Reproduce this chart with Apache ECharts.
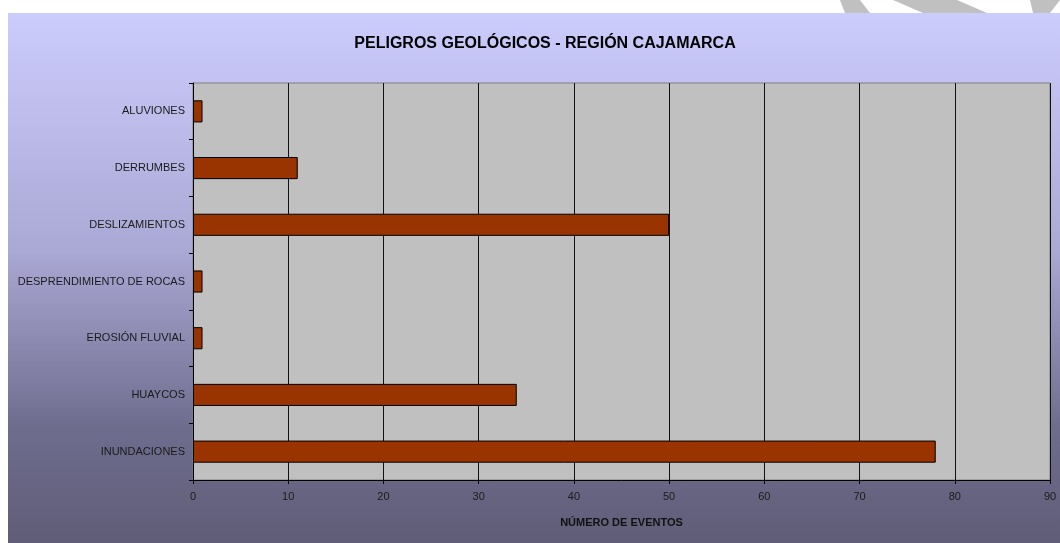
<!DOCTYPE html>
<html>
<head>
<meta charset="utf-8">
<script src="https://cdn.jsdelivr.net/npm/echarts@6/dist/echarts.min.js"></script>
<style>
  html, body { margin: 0; padding: 0; background: #ffffff; }
  #chart { width: 1060px; height: 543px; }
</style>
</head>
<body>
<div id="chart"></div>
<script>
// datos del grafico
var categorias = ['ALUVIONES', 'DERRUMBES', 'DESLIZAMIENTOS', 'DESPRENDIMIENTO DE ROCAS', 'EROSIÓN FLUVIAL', 'HUAYCOS', 'INUNDACIONES'];
var eventos = [1, 11, 50, 1, 1, 34, 78];
var ejeX = { min: 0, max: 90, intervalo: 10 };

var myChart = echarts.init(document.getElementById('chart'));

var option = {
    animation: false,
    textStyle: { fontFamily: 'Arial, "Liberation Sans", sans-serif' },
    graphic: [
        {
            // fondo degradado
            type: 'rect',
            z: -10,
            silent: true,
            shape: { x: 8, y: 13, width: 1052, height: 530 },
            style: {
                fill: {
                    type: 'linear', x: 0, y: 0, x2: 0, y2: 1,
                    colorStops: [
                        { offset: 0, color: '#ccccfd' },
                        { offset: 0.45, color: '#aaa8d4' },
                        { offset: 0.78, color: '#6f6d8e' },
                        { offset: 1, color: '#5f5d77' }
                    ]
                }
            }
        },
        // marca de agua arriba a la derecha
        { type: 'polygon', z: -10, silent: true, shape: { points: [[840, 0], [860, 0], [870, 13], [845, 13]] }, style: { fill: '#c0c0c0' } },
        { type: 'polygon', z: -10, silent: true, shape: { points: [[893, 0], [957, 0], [987, 13], [923, 13]] }, style: { fill: '#c0c0c0' } },
        { type: 'polygon', z: -10, silent: true, shape: { points: [[1030, 0], [1060, 0], [1050, 13], [1033, 13]] }, style: { fill: '#c0c0c0' } }
    ],
    title: {
        text: 'PELIGROS GEOLÓGICOS - REGIÓN CAJAMARCA',
        left: 540,
        textAlign: 'center',
        top: 31,
        textStyle: { fontSize: 16, fontWeight: 'bold', color: '#000' }
    },
    grid: {
        left: 193,
        top: 83,
        right: 10,
        bottom: 63,
        show: true,
        backgroundColor: '#c0c0c0',
        borderColor: '#808080',
        borderWidth: 1,
        containLabel: false,
        outerBoundsMode: 'none'
    },
    xAxis: {
        type: 'value',
        min: ejeX.min,
        max: ejeX.max,
        interval: ejeX.intervalo,
        name: 'NÚMERO DE EVENTOS',
        nameLocation: 'middle',
        nameGap: 37,
        nameTextStyle: { fontSize: 11, fontWeight: 'bold', color: '#111' },
        axisLine: { show: true, lineStyle: { color: '#000', width: 1 } },
        axisTick: { show: true, inside: false, length: 4, lineStyle: { color: '#000' } },
        axisLabel: { fontSize: 11, color: '#1a1a1a', margin: 11 },
        splitLine: { show: true, lineStyle: { color: '#111', width: 1 } }
    },
    yAxis: {
        type: 'category',
        inverse: true,
        data: categorias,
        axisLine: { show: true, lineStyle: { color: '#000', width: 1 } },
        axisTick: { show: true, inside: false, length: 4, lineStyle: { color: '#000' } },
        axisLabel: { fontSize: 11, color: '#1a1a1a', margin: 8 },
        splitLine: { show: false }
    },
    series: [{
        type: 'bar',
        data: eventos,
        barCategoryGap: '61%',
        itemStyle: {
            color: '#993300',
            borderColor: '#000',
            borderWidth: 1
        }
    }]
};

myChart.setOption(option);
</script>
</body>
</html>
